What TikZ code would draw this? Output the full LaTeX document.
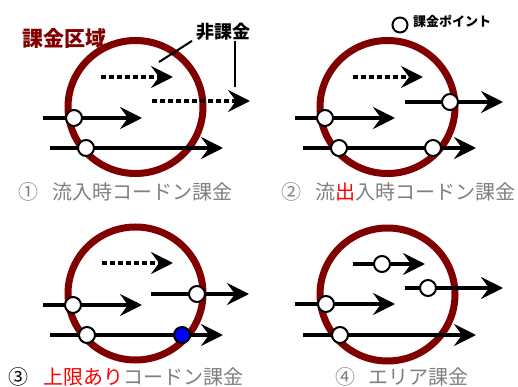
\documentclass[tikz,border=0pt]{standalone}
\usepackage{fontspec}
\newfontfamily\jp{Noto Sans CJK JP}
\usetikzlibrary{arrows.meta}
\definecolor{zonered}{HTML}{800000}
\definecolor{capgray}{HTML}{7F7F7F}
\begin{document}
\begin{tikzpicture}[x=1pt,y=-1pt,
  zone/.style={draw=zonered,line width=7pt},
  arr/.style={line width=4.5pt,-{Stealth[length=22pt,width=22pt,inset=8pt]}},
  dotarr/.style={arr,dash pattern=on 4.7pt off 3.3pt},
  pt/.style={circle,draw,line width=2pt,fill=white,minimum size=16pt,inner sep=0pt},
  bluept/.style={pt,fill=blue},
  captxt/.style={font=\jp\fontsize{20}{20}\selectfont,text=capgray,inner sep=0pt,anchor=west},
  lead/.style={line width=2pt}]
\useasboundingbox (0,0) rectangle (518,387);

% ---------- Panel 1 ----------
\draw[zone] (135.5,107) ellipse [x radius=67.5, y radius=66.5];
\coordinate (p1d1s) at (101,77);  \coordinate (p1d1e) at (173,77);
\coordinate (p1d2s) at (152,101); \coordinate (p1d2e) at (250,101);
\coordinate (p1a1s) at (43,118);  \coordinate (p1a1e) at (142,118);
\coordinate (p1a2s) at (50,148);  \coordinate (p1a2e) at (223,148);
\draw[dotarr] (p1d1s) -- (p1d1e);
\draw[dotarr] (p1d2s) -- (p1d2e);
\draw[arr] (p1a1s) -- (p1a1e);
\draw[arr] (p1a2s) -- (p1a2e);
\node[pt] (p1c1) at (74,118) {};
\node[pt] (p1c2) at (86,148) {};
\node[font=\jp\bfseries\fontsize{21}{21}\selectfont,text=zonered,anchor=west,inner sep=0pt] (zlab) at (22,38) {課金区域};
\node[font=\jp\bfseries\fontsize{18}{18}\selectfont,anchor=west,inner sep=0pt] (nc) at (196,32) {非課金};
\coordinate (l1) at (159,62);
\coordinate (l2) at (235,87);
\draw[lead] ([xshift=-4pt]nc.south west) -- (l1);
\draw[lead] (nc.south -| l2) -- (l2);
\node[captxt] (c1n) at (18,192) {①};
\node[captxt] (c1t) at (52,192) {流入時コードン課金};

% ---------- Panel 2 ----------
\draw[zone] (387.5,107) ellipse [x radius=67.5, y radius=66.5];
\coordinate (p2d1s) at (353,77);  \coordinate (p2d1e) at (423,77);
\coordinate (p2a0s) at (405,102); \coordinate (p2a0e) at (503,102);
\coordinate (p2a1s) at (295,118); \coordinate (p2a1e) at (395,118);
\coordinate (p2a2s) at (303,148); \coordinate (p2a2e) at (476,148);
\draw[dotarr] (p2d1s) -- (p2d1e);
\draw[arr] (p2a0s) -- (p2a0e);
\draw[arr] (p2a1s) -- (p2a1e);
\draw[arr] (p2a2s) -- (p2a2e);
\node[pt] (p2c0) at (450,102) {};
\node[pt] (p2c1) at (325,118) {};
\node[pt] (p2c2) at (339,148) {};
\node[pt] (p2c3) at (433,148) {};
\node[pt,minimum size=15pt] (lgc) at (400,25) {};
\node[font=\jp\bfseries\fontsize{13}{13}\selectfont,anchor=west,inner sep=0pt] (lgt) at (413,21) {課金ポイント};
\node[captxt] (c2n) at (281,192) {②};
\node[captxt] (c2t) at (315,192) {流\textcolor{red}{出}入時コードン課金};

% ---------- Panel 3 ----------
\draw[zone] (135.5,293.5) ellipse [x radius=67.5, y radius=66.5];
\coordinate (p3d1s) at (102,263); \coordinate (p3d1e) at (173,263);
\coordinate (p3a0s) at (151,294); \coordinate (p3a0e) at (249,294);
\coordinate (p3a1s) at (43,305);  \coordinate (p3a1e) at (142,305);
\coordinate (p3a2s) at (50,335);  \coordinate (p3a2e) at (223,335);
\draw[dotarr] (p3d1s) -- (p3d1e);
\draw[arr] (p3a0s) -- (p3a0e);
\draw[arr] (p3a1s) -- (p3a1e);
\draw[arr] (p3a2s) -- (p3a2e);
\node[pt] (p3c0) at (197,294) {};
\node[pt] (p3c1) at (73,305) {};
\node[pt] (p3c2) at (87,335) {};
\node[bluept] (p3c3) at (182,335) {};
\node[captxt,text=black] (c3n) at (8,377) {③};
\node[captxt] (c3t) at (43,377) {\textcolor{red}{上限あり}コードン課金};

% ---------- Panel 4 ----------
\draw[zone] (387.5,294.5) ellipse [x radius=67.5, y radius=66.5];
\coordinate (p4a3s) at (353,264); \coordinate (p4a3e) at (425,264);
\coordinate (p4a0s) at (405,288); \coordinate (p4a0e) at (503,288);
\coordinate (p4a1s) at (295,304); \coordinate (p4a1e) at (395,304);
\coordinate (p4a2s) at (303,335); \coordinate (p4a2e) at (476,335);
\draw[arr] (p4a3s) -- (p4a3e);
\draw[arr] (p4a0s) -- (p4a0e);
\draw[arr] (p4a1s) -- (p4a1e);
\draw[arr] (p4a2s) -- (p4a2e);
\node[pt] (p4c3) at (382,264) {};
\node[pt] (p4c0) at (428,288) {};
\node[pt] (p4c1) at (326,304) {};
\node[pt] (p4c2) at (340,335) {};
\node[captxt] (c4n) at (335,377) {④};
\node[captxt] (c4t) at (368,377) {エリア課金};
\end{tikzpicture}
\end{document}
